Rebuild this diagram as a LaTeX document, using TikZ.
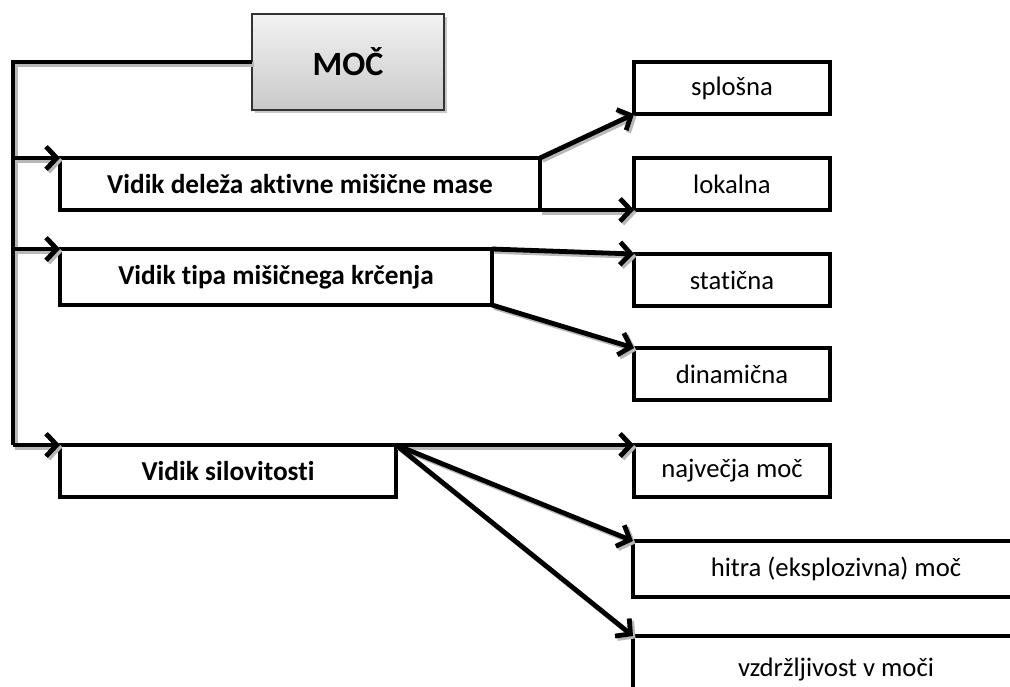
\documentclass[tikz,border=0pt]{standalone}
\usepackage{fontspec}
\setmainfont{Carlito}[Ligatures=NoCommon]
\usetikzlibrary{arrows.meta,shadows}
\begin{document}
\begin{tikzpicture}[x=0.75pt,y=-0.75pt,
  shd/.style={preaction={draw=black!28, line width=3.6pt, transform canvas={shift={(1.8pt,-1.8pt)}}}},
  box/.style={draw, line width=3.6pt, fill=white, outer sep=0pt, inner sep=0pt,
    font=\fontsize{20}{24}\selectfont,
    drop shadow={shadow xshift=1.8pt, shadow yshift=-1.8pt, fill=black!30, opacity=1}},
  lbox/.style={box, font=\bfseries\fontsize{20.5}{24}\selectfont},
  rbox/.style={box, minimum width=147pt, minimum height=39pt},
  conn/.style={line width=3.6pt, shd, -{Straight Barb[length=8pt,width=17pt,line width=3.6pt]}},
  trunk/.style={line width=3.6pt, shd}
]
\clip (0,0) rectangle (1010,686);
\fill[white] (0,0) rectangle (1010,686);

% top node
\node[draw=black!80, line width=1.5pt, top color=gray!10, bottom color=gray!42, outer sep=0pt,
  minimum width=144pt, minimum height=72pt, font=\bfseries\fontsize{25.5}{30}\selectfont,
  drop shadow={shadow xshift=2pt, shadow yshift=-2pt, fill=black!22, opacity=1}]
  (moc) at (348,62) {MOČ};

% left boxes
\node[lbox, minimum width=360pt, minimum height=39pt] (b1) at (300,184) {Vidik deleža aktivne mišične mase};
\node[lbox, minimum width=324pt, minimum height=42pt] (b2) at (276,277) {Vidik tipa mišičnega krčenja};
\node[lbox, minimum width=252pt, minimum height=39pt] (b3) at (228,471) {Vidik silovitosti};

% right boxes
\node[rbox] (r1) at (732,88) {splošna};
\node[rbox] (r2) at (732,184) {lokalna};
\node[rbox] (r3) at (732,280) {statična};
\node[rbox] (r4) at (732,374) {dinamična};
\node[rbox] (r5) at (732,471) {največja moč};
\node[box, minimum width=304.5pt, minimum height=42pt] (r6) at (836,569) {hitra (eksplozivna) moč};
\node[box, minimum width=304.5pt, minimum height=51pt] (r7) at (836,670) {vzdržljivost v moči};

% trunk
\coordinate (tc) at (13,62);
\coordinate (t1) at (13,158);
\coordinate (t2) at (13,249);
\coordinate (t3) at (13,445);
\draw[trunk] (moc.west) -- (tc) -- (t3);
\draw[conn] (t1) -- (b1.north west);
\draw[conn] (t2) -- (b2.north west);
\draw[conn] (t3) -- (b3.north west);

% right connectors
\draw[conn] (b1.north east) -- (r1.south west);
\draw[conn] (b1.south east) -- (r2.south west);
\draw[conn] (b2.north east) -- (r3.north west);
\draw[conn] (b2.south east) -- (r4.north west);
\draw[conn] (b3.north east) -- (r5.north west);
\draw[conn] (b3.north east) -- (r6.north west);
\draw[conn] (b3.north east) -- (r7.north west);
\end{tikzpicture}
\end{document}
